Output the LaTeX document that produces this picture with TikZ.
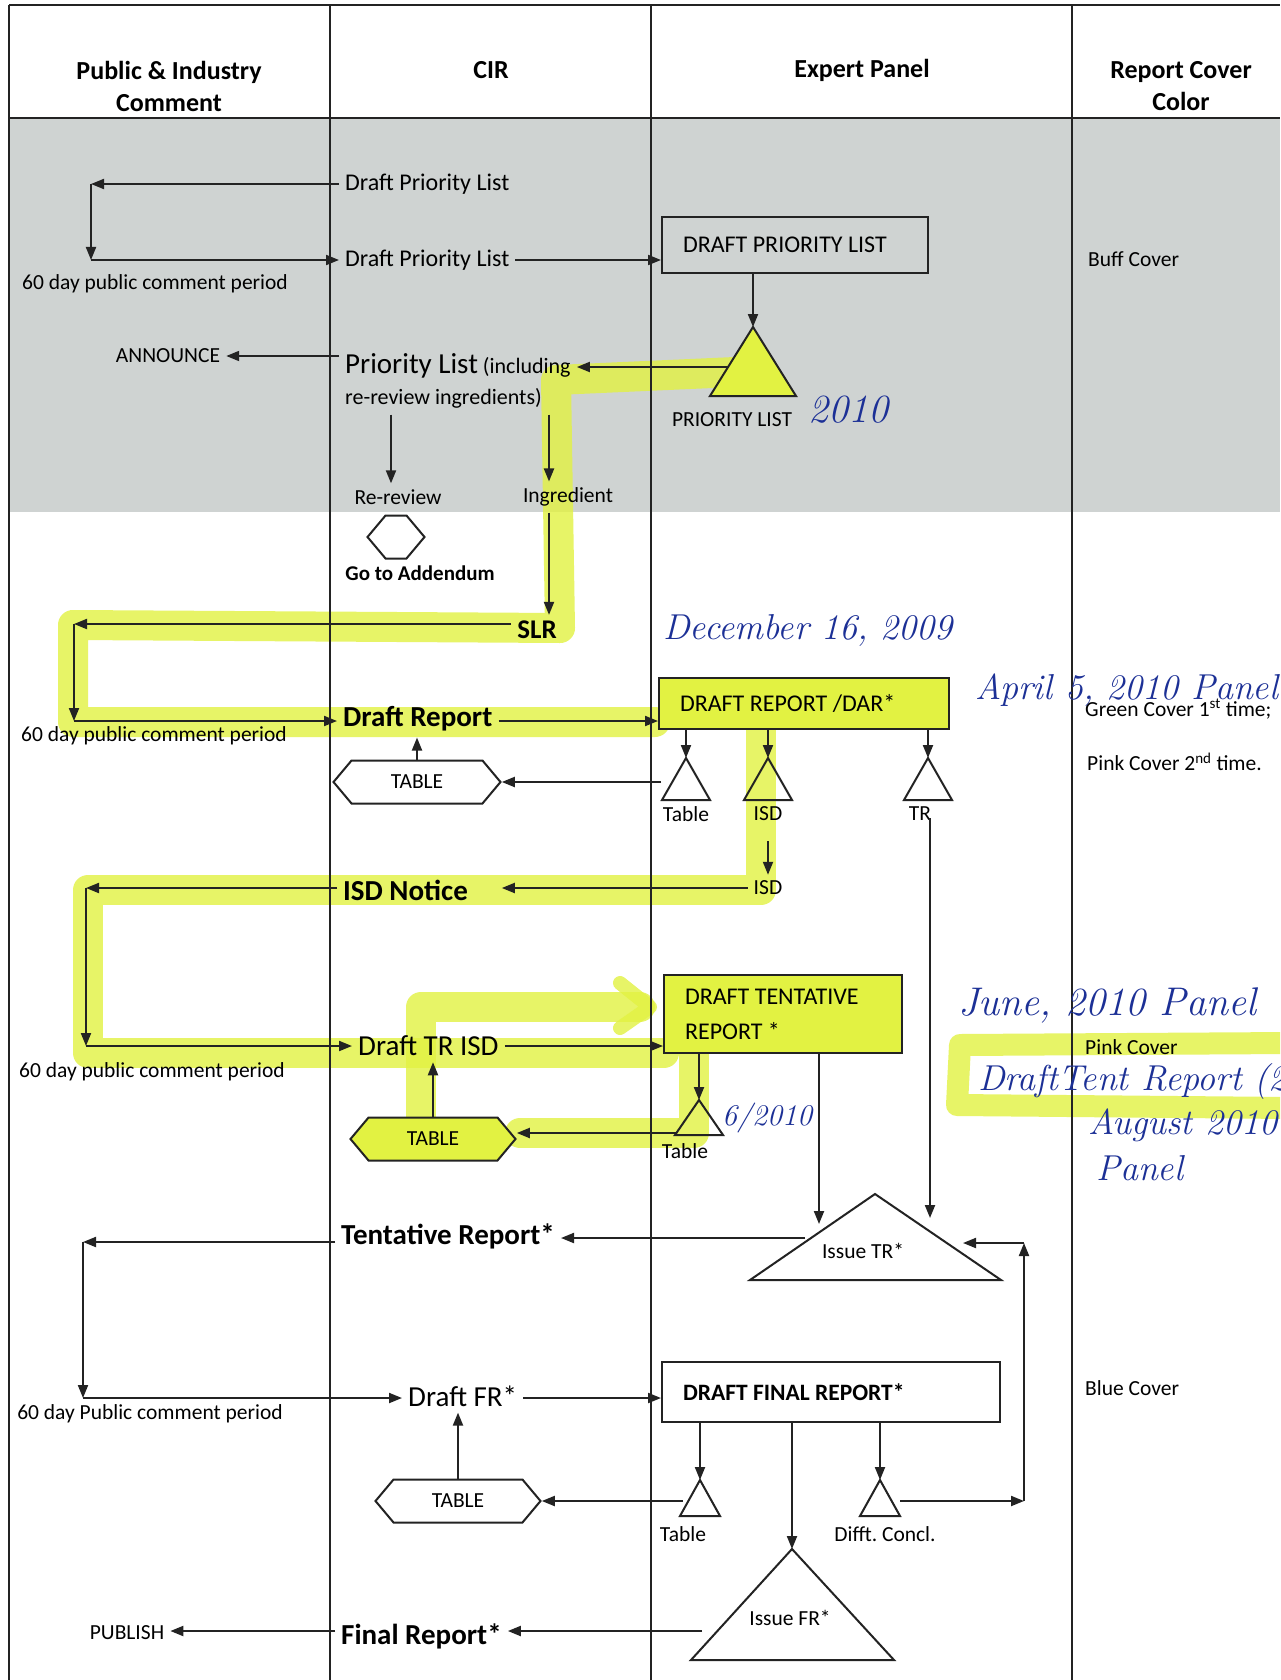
\documentclass[tikz,border=0pt]{standalone}
\usepackage{fontspec}
\setsansfont{Carlito}
\usepackage{xcolor}
\usepackage{tikz}
\usetikzlibrary{arrows.meta,positioning,shapes.symbols}
\frenchspacing

\definecolor{ink}{RGB}{35,35,35}
\definecolor{bggray}{RGB}{207,211,210}
\definecolor{hl}{RGB}{226,242,66}
\definecolor{pen}{RGB}{28,48,150}

\begin{document}
\begin{tikzpicture}[
  x=1pt, y=-1pt,
  font=\sffamily,
  lane/.style={draw=ink, line width=1.5pt},
  arrow/.style={-{Triangle[length=13pt,width=10pt]}, draw=ink, line width=2pt},
  head/.style={font=\sffamily\bfseries\fontsize{26}{32}\selectfont, align=center},
  lbl/.style={font=\sffamily\fontsize{21.5}{26}\selectfont, inner sep=6pt},
  txt/.style={font=\sffamily\fontsize{24}{30}\selectfont, inner sep=6pt},
  big/.style={font=\sffamily\fontsize{29}{34}\selectfont, inner sep=6pt},
  bigb/.style={font=\sffamily\bfseries\fontsize{29}{34}\selectfont, inner sep=6pt},
  box/.style={draw=ink, line width=2pt, align=flush left, inner xsep=21pt, font=\sffamily\fontsize{24}{35}\selectfont},
  hexa/.style={signal, signal to=west and east, signal pointer angle=100, draw=ink, line width=2pt, minimum height=43pt, inner sep=0pt, font=\sffamily\fontsize{21.5}{26}\selectfont},
  tri/.style={draw=ink, line width=2pt},
  hand/.style={text=pen, font=\rmfamily\itshape\fontsize{36}{40}\selectfont, inner sep=0pt},
  glow/.style={draw=hl, line width=30pt, line cap=round, line join=round, opacity=0.8}
]
\useasboundingbox (0,0) rectangle (1280,1680);
\clip (0,0) rectangle (1280,1680);
\fill[white] (0,0) rectangle (1280,1680);
\fill[bggray] (9,118) rectangle (1280,512);

% highlighter marks
\draw[glow] (735,372) -- (556,380) -- (560,628) -- (73,625) -- (73,722) -- (655,722);
\draw[glow] (761,728) -- (761,890) -- (88,890) -- (88,1053) -- (664,1053);
\draw[glow] (694,1053) -- (694,1133) -- (520,1133);
\draw[glow] (421,1117) -- (421,1007) -- (640,1007);
\draw[glow, line width=14pt] (620,983) -- (650,1007) -- (620,1028);
\draw[glow, line width=22pt] (1290,1043) -- (960,1045) -- (957,1105) -- (1290,1108);

% swim lanes
\draw[lane] (9,5) -- (1280,5);
\draw[lane] (9,118) -- (1280,118);
\foreach \x in {9,330,651,1072} \draw[lane] (\x,5) -- (\x,1680);

\node[head] (hpub) at (169,86) {Public \& Industry\\Comment};
\node[head] (hcir) at (491,70) {CIR};
\node[head] (hexp) at (862,70) {Expert Panel};
\node[head] (hcol) at (1181,86) {Report Cover\\Color};

% priority list
\node[txt, anchor=west] (dpl1) at (339,184) {Draft Priority List};
\node[txt, anchor=west] (dpl2) at (339,260) {Draft Priority List};
\node[lbl] (pcp1) at (155,284) {60 day public comment period};
\node[box, text width=224pt, minimum height=55pt] (dplbox) at (795,245) {DRAFT PRIORITY LIST};
\coordinate (c1) at (91,184);
\coordinate (c2) at (91,260);
\draw[arrow] (dpl1.west) -- (c1);
\draw[arrow] (c1) -- (c2);
\draw[arrow] (c2) -- (dpl2.west);
\draw[arrow] (dpl2.east) -- (dpl2.east -| dplbox.west);

\coordinate (plt) at (753,327);
\draw[tri, fill=hl] (plt) -- ++(43,69) -- ++(-86,0) -- cycle;
\draw[arrow] (dplbox.south -| plt) -- (plt);
\node[lbl] (plbl) at (732,420) {PRIORITY LIST};

\node[anchor=west, align=left, inner sep=6pt, font=\sffamily\fontsize{22}{31}\selectfont] (plist) at (339,381) {{\fontsize{29}{31}\selectfont Priority List} (including\\re-review ingredients)};
\coordinate (plside) at (729,367);
\draw[arrow] (plside) -- (plside -| plist.east);
\node[lbl] (ann) at (168,356) {ANNOUNCE};
\draw[arrow] (plist.west |- ann) -- (ann.east);

\node[lbl] (rr) at (398,497) {Re-review};
\node[lbl] (ing) at (568,497) {Ingredient};
\coordinate (rrx) at (391,0);
\coordinate (ingx) at (549,0);
\draw[arrow] (plist.south -| rrx) -- (rr.north -| rrx);
\draw[arrow] (plist.south -| ingx) -- (ing.north -| ingx);

\node[hexa, minimum width=57pt] (addh) at (396,537) {};
\node[lbl, font=\sffamily\bfseries\fontsize{21}{26}\selectfont] (gta) at (420,573) {Go to Addendum};

% draft report
\node[bigb, font=\sffamily\bfseries\fontsize{27}{32}\selectfont] (slr) at (537,630) {SLR};
\draw[arrow] (ing.south -| ingx) -- (slr.north -| ingx);
\node[bigb, anchor=west] (drep) at (337,719) {Draft Report};
\node[lbl] (pcp2) at (154,736) {60 day public comment period};
\node[box, text width=248pt, minimum height=51pt, fill=hl] (drap) at (804,703) {DRAFT REPORT /DAR*};
\coordinate (c3) at (74,624);
\coordinate (c4) at (74,721);
\draw[arrow] (slr.west |- c3) -- (c3);
\draw[arrow] (c3) -- (c4);
\draw[arrow] (c4) -- (c4 -| drep.west);
\draw[arrow] (drep.east |- c4) -- (c4 -| drap.west);

\coordinate (ta) at (686,758);
\coordinate (tb) at (768,758);
\coordinate (tc) at (928,758);
\foreach \t in {ta,tb,tc} {
  \draw[tri] (\t) -- ++(24,42) -- ++(-48,0) -- cycle;
  \draw[arrow] (drap.south -| \t) -- (\t);
}
\node[lbl] (ltab1) at (686,814) {Table};
\node[lbl] (lisd1) at (768,814) {ISD};
\node[lbl] (ltr1) at (920,814) {TR};
\node[hexa, minimum width=167pt] (tab1) at (417,782) {TABLE};
\coordinate (tal) at (661,782);
\draw[arrow] (tal) -- (tab1.east);
\draw[arrow] (tab1.north) -- (tab1.north |- drep.south);

% isd notice
\node[lbl] (lisd2) at (768,888) {ISD};
\draw[arrow, shorten <=14pt] (lisd1.south) -- (lisd2.north);
\node[bigb, anchor=west] (isdn) at (337,890) {ISD Notice};
\draw[arrow] (lisd2.west) -- (lisd2.west -| tab1.east);
\coordinate (c5) at (86,888);
\coordinate (c6) at (86,1046);
\draw[arrow] (isdn.west |- c5) -- (c5);
\draw[arrow] (c5) -- (c6);
\node[big, anchor=west] (dtr) at (352,1046) {Draft TR ISD};
\draw[arrow] (c6) -- (c6 -| dtr.west);
\node[lbl] (pcp3) at (152,1072) {60 day public comment period};
\node[box, text width=196pt, minimum height=78pt, fill=hl] (dtent) at (783,1014) {DRAFT TENTATIVE\\REPORT *};
\draw[arrow] (dtr.east) -- (dtr.east -| dtent.west);

\coordinate (td) at (699,1100);
\draw[tri] (td) -- ++(24,35) -- ++(-48,0) -- cycle;
\draw[arrow] (dtent.south -| td) -- (td);
\node[lbl] (ltab2) at (685,1151) {Table};
\node[hexa, minimum width=165pt, fill=hl] (tab2) at (433,1139) {TABLE};
\coordinate (tdl) at (677,1133);
\draw[arrow] (tdl) -- (tdl -| tab2.east);
\draw[arrow] (tab2.north) -- (tab2.north |- dtr.south);

% tentative report
\coordinate (itr) at (875,1194);
\draw[tri] (itr) -- (1001,1280) -- (750,1280) -- cycle;
\node[lbl] (litr) at (863,1251) {Issue TR*};
\coordinate (itrin) at (819,1224);
\draw[arrow] (dtent.south -| itrin) -- (itrin);
\coordinate (trtop) at (930,818);
\coordinate (trin) at (930,1218);
\draw[arrow] (trtop) -- (trin);
\node[bigb, anchor=west] (tentr) at (335,1236) {Tentative Report*};
\coordinate (itrl) at (805,1238);
\draw[arrow] (itrl) -- (itrl -| tentr.east);
\coordinate (c7) at (83,1242);
\coordinate (c8) at (83,1398);
\draw[arrow] (tentr.west |- c7) -- (c7);
\draw[arrow] (c7) -- (c8);

% final report
\node[big, anchor=west] (dfr) at (402,1396) {Draft FR*};
\node[lbl] (pcp4) at (150,1414) {60 day Public comment period};
\node[box, text width=296pt, minimum height=60pt, font=\sffamily\bfseries\fontsize{23.5}{30}\selectfont] (dfin) at (831,1392) {DRAFT FINAL REPORT*};
\draw[arrow] (c8) -- (c8 -| dfr.west);
\draw[arrow] (dfr.east |- c8) -- (c8 -| dfin.west);

\coordinate (tf1) at (700,1480);
\coordinate (tf2) at (880,1480);
\coordinate (ifr) at (792,1549);
\draw[tri] (tf1) -- ++(20,36) -- ++(-40,0) -- cycle;
\draw[tri] (tf2) -- ++(20,36) -- ++(-40,0) -- cycle;
\draw[tri] (ifr) -- (894,1660) -- (691,1660) -- cycle;
\foreach \t in {tf1,ifr,tf2} \draw[arrow] (dfin.south -| \t) -- (\t);
\node[lbl] (ltab3) at (683,1534) {Table};
\node[lbl] (ldif) at (885,1534) {Difft. Concl.};
\node[lbl] (lifr) at (790,1618) {Issue FR*};
\node[hexa, minimum width=165pt] (tab3) at (458,1501) {TABLE};
\coordinate (tf1l) at (683,1501);
\draw[arrow] (tf1l) -- (tf1l -| tab3.east);
\draw[arrow] (tab3.north) -- (tab3.north |- dfr.south);
\coordinate (tf2r) at (900,1501);
\coordinate (c9) at (1024,1501);
\coordinate (c10) at (1024,1243);
\coordinate (itrr) at (963,1243);
\draw[arrow] (tf2r) -- (c9);
\draw[arrow] (c9) -- (c10);
\draw[arrow] (c10) -- (itrr);

\node[bigb, anchor=west] (finr) at (335,1636) {Final Report*};
\coordinate (ifrl) at (702,1631);
\draw[arrow] (ifrl) -- (ifrl -| finr.east);
\node[lbl] (pub) at (127,1633) {PUBLISH};
\draw[arrow] (finr.west |- ifrl) -- (ifrl -| pub.east);

% cover colours
\node[lbl, anchor=west] (buff) at (1082,259) {Buff Cover};
\node[lbl, anchor=west] (green) at (1079,709) {Green Cover 1\textsuperscript{st} time;};
\node[lbl, anchor=west] (pink2) at (1081,762) {Pink Cover 2\textsuperscript{nd} time.};
\node[lbl, anchor=west] (pink) at (1079,1047) {Pink Cover};
\node[lbl, anchor=west] (blue) at (1079,1388) {Blue Cover};

% handwritten notes
\node[hand, font=\rmfamily\itshape\fontsize{40}{44}\selectfont] (n2010) at (848,410) {2010};
\node[hand] (ndec) at (808,630) {December 16, 2009};
\node[hand, anchor=west] (napr) at (975,690) {April 5, 2010 Panel};
\node[hand, anchor=west, font=\rmfamily\itshape\fontsize{40}{44}\selectfont] (njun) at (958,1005) {June, 2010 Panel};
\node[hand, anchor=west] (ntent) at (978,1082) {DraftTent Report (2010)};
\node[hand, anchor=west] (naug) at (1088,1125) {August 2010};
\node[hand, anchor=west] (npan) at (1096,1168) {Panel};
\node[hand, anchor=west, font=\rmfamily\itshape\fontsize{30}{34}\selectfont] (njune) at (722,1118) {6/2010};
\end{tikzpicture}
\end{document}
